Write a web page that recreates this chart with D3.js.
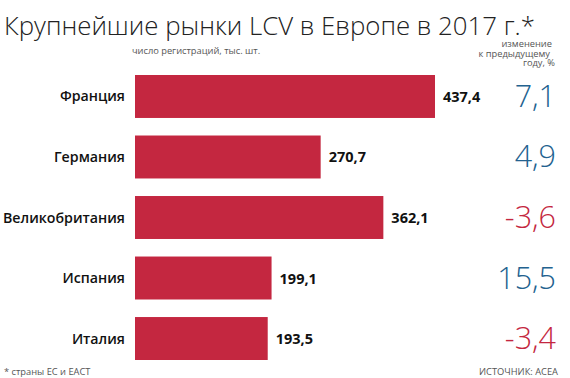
<!DOCTYPE html>
<html><head><meta charset="utf-8">
<script src="https://cdn.jsdelivr.net/npm/d3@7"></script>
<style>body{margin:0;background:#fff}svg{display:block}</style>
</head><body>
<script>
const countries = ["Франция","Германия","Великобритания","Испания","Италия"];
const registrations = [437.4, 270.7, 362.1, 199.1, 193.5];
const changes = [7.1, 4.9, -3.6, 15.5, -3.4];

const W = 570, H = 378;
const svg = d3.select("body").append("svg").attr("width", W).attr("height", H);
const fmt = v => d3.format(".1f")(v).replace(".", ",").replace("\u2212", "-");

const x = d3.scaleLinear().domain([0, 437.4]).range([135, 435]);
const y = d3.scaleBand().domain(countries).range([75, 360]).paddingInner(0.29).paddingOuter(0);

svg.append("text").attr("x", 4).attr("y", 35)
  .attr("font-family", "'Open Sans', sans-serif").attr("font-weight", 300)
  .attr("font-size", 25.8).attr("fill", "#222")
  .text("Крупнейшие рынки LCV в Европе в 2017 г.*");

svg.append("text").attr("x", 196).attr("y", 54).attr("text-anchor", "middle")
  .attr("font-family", "'Open Sans', sans-serif").attr("font-size", 9.3).attr("fill", "#555")
  .text("число регистраций, тыс. шт.");

const sub = ["изменение", "к предыдущему", "году, %"];
svg.append("g").selectAll("text").data(sub).join("text")
  .attr("x", (d, i) => [552, 550, 555][i]).attr("y", (d, i) => 47 + i * 9.5).attr("text-anchor", "end")
  .attr("font-family", "'Open Sans', sans-serif").attr("font-size", 9.3).attr("fill", "#555")
  .text(d => d);

const rows = svg.append("g").selectAll("g").data(countries).join("g");

rows.append("rect")
  .attr("x", x(0)).attr("y", d => y(d))
  .attr("width", (d, i) => x(registrations[i]) - x(0))
  .attr("height", y.bandwidth()).attr("fill", "#c42740");

rows.append("text")
  .attr("x", 125).attr("y", d => y(d) + y.bandwidth() / 2 + 5)
  .attr("text-anchor", "end")
  .attr("font-family", "'Open Sans', sans-serif").attr("font-weight", 600)
  .attr("font-size", 14.2).attr("fill", "#111")
  .text(d => d);

rows.append("text")
  .attr("x", (d, i) => x(registrations[i]) + 8).attr("y", d => y(d) + y.bandwidth() / 2 + 5.5)
  .attr("font-family", "'Open Sans', sans-serif").attr("font-weight", 700)
  .attr("font-size", 14.5).attr("fill", "#111")
  .text((d, i) => fmt(registrations[i]));

rows.append("text")
  .attr("x", 556).attr("y", d => y(d) + y.bandwidth() / 2 + 10.5)
  .attr("text-anchor", "end")
  .attr("font-family", "'Open Sans', sans-serif").attr("font-weight", 300)
  .attr("font-size", 30.5)
  .attr("fill", (d, i) => changes[i] >= 0 ? "#23628f" : "#c42740")
  .text((d, i) => fmt(changes[i]));

svg.append("text").attr("x", 4).attr("y", 375)
  .attr("font-family", "'Open Sans', sans-serif").attr("font-size", 9.3).attr("fill", "#555")
  .text("* страны ЕС и ЕАСТ");
svg.append("text").attr("x", 558).attr("y", 375).attr("text-anchor", "end")
  .attr("font-family", "'Open Sans', sans-serif").attr("font-size", 9.3).attr("fill", "#555")
  .text("ИСТОЧНИК: ACEA");
</script>
</body></html>
